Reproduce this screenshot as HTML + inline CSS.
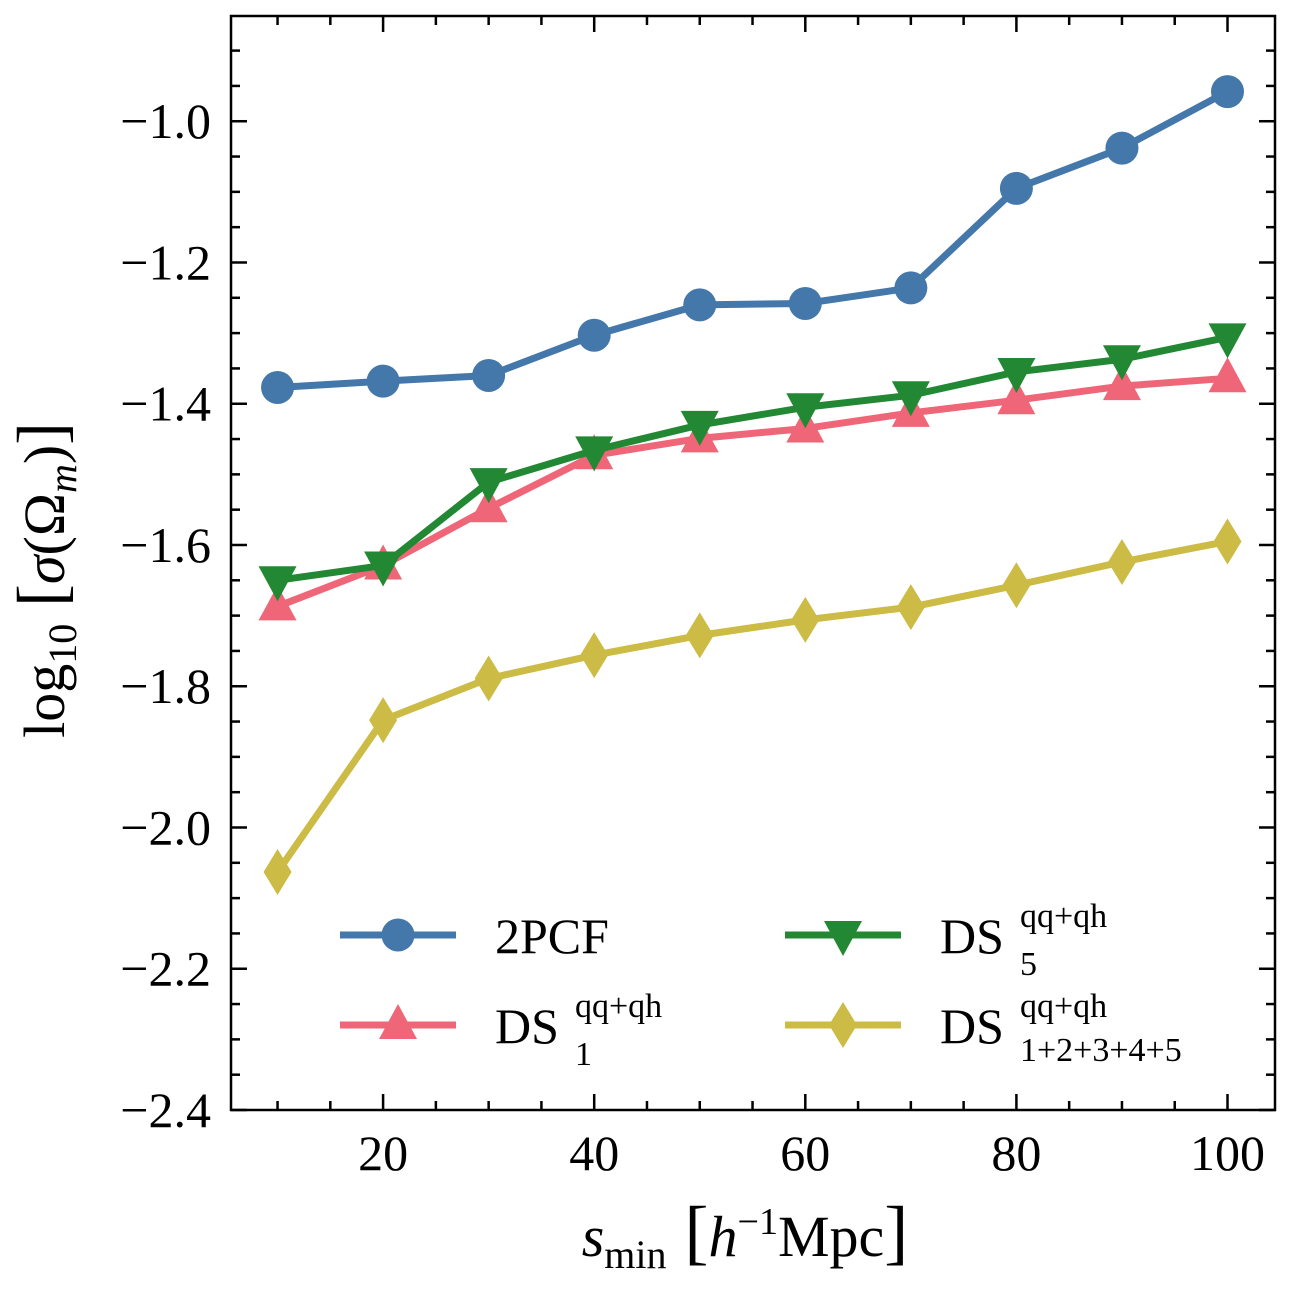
<!DOCTYPE html>
<html><head><meta charset="utf-8"><style>
body{margin:0;background:#fff}
svg{display:block}
text{font-family:"Liberation Serif","DejaVu Serif",serif;fill:#000}
</style></head><body>
<svg id="chart" width="1290" height="1290" viewBox="0 0 1290 1290"></svg>
<script>
const xValues=[10,20,30,40,50,60,70,80,90,100];
const series2PCF=[-1.377,-1.368,-1.360,-1.303,-1.260,-1.258,-1.236,-1.095,-1.038,-0.958];
const seriesDS1=[-1.687,-1.629,-1.548,-1.473,-1.449,-1.435,-1.413,-1.395,-1.375,-1.364];
const seriesDS5=[-1.650,-1.629,-1.511,-1.466,-1.430,-1.405,-1.388,-1.355,-1.337,-1.306];
const seriesComb=[-2.063,-1.848,-1.789,-1.756,-1.728,-1.706,-1.688,-1.657,-1.624,-1.595];
const xTicks=[20,40,60,80,100];
const yTicks=[-2.4,-2.2,-2.0,-1.8,-1.6,-1.4,-1.2,-1.0];

const L=231,R=1275,T=16,B=1110;
const X0=5.59,X1=104.5,Y0=-2.4,Y1=-0.851;
const sx=v=>L+(v-X0)/(X1-X0)*(R-L);
const sy=v=>B-(v-Y0)/(Y1-Y0)*(B-T);
const NS="http://www.w3.org/2000/svg";
const svg=document.getElementById('chart');
function mk(tag,attrs,parent){const e=document.createElementNS(NS,tag);for(const k in attrs)e.setAttribute(k,attrs[k]);(parent||svg).appendChild(e);return e;}

const tg=mk('g',{stroke:'#000','stroke-width':2.5});


for(let v=10;v<=104;v+=5){const x=sx(v);const maj=xTicks.includes(v);const len=maj?16:9;
 mk('line',{x1:x,y1:B,x2:x,y2:B-len},tg);mk('line',{x1:x,y1:T,x2:x,y2:T+len},tg);}
for(let i=0;i<=30;i++){const v=-2.4+i*0.05;if(v>Y1)break;const y=sy(v);const maj=i%4===0;const len=maj?16:9;
 mk('line',{x1:L,y1:y,x2:L+len,y2:y},tg);mk('line',{x1:R,y1:y,x2:R-len,y2:y},tg);}
xTicks.forEach(v=>{const t=mk('text',{x:sx(v),y:1170,'font-size':50,'text-anchor':'middle'});t.textContent=v;
 
 });
yTicks.forEach(v=>{const t=mk('text',{x:211,y:sy(v)+17,'font-size':50,'text-anchor':'end'});t.textContent='\u2212'+Math.abs(v).toFixed(1);
 
 });

function marker(g,type,x,y,color){
 if(type==='o')mk('circle',{cx:x,cy:y,r:16.5,fill:color},g);
 else if(type==='^')mk('polygon',{points:`${x},${y-21} ${x-19},${y+14} ${x+19},${y+14}`,fill:color},g);
 else if(type==='v')mk('polygon',{points:`${x},${y+21} ${x-19},${y-14} ${x+19},${y-14}`,fill:color},g);
 else if(type==='d')mk('polygon',{points:`${x},${y-23} ${x-14},${y} ${x},${y+23} ${x+14},${y}`,fill:color},g);
}
const defs=[[series2PCF,'#4477AA','o','series-2pcf'],[seriesDS1,'#EE6677','^','series-ds1'],[seriesDS5,'#228833','v','series-ds5'],[seriesComb,'#CCBB44','d','series-ds-combined']];
defs.forEach(([d,c,m,n])=>{const g=mk('g',{});
 
 
 mk('polyline',{points:d.map((v,i)=>sx(xValues[i])+','+sy(v)).join(' '),fill:'none',stroke:c,'stroke-width':7,'stroke-linejoin':'round'},g);
 d.forEach((v,i)=>marker(g,m,sx(xValues[i]),sy(v),c));});

mk('rect',{x:L,y:T,width:R-L,height:B-T,fill:'none',stroke:'#000','stroke-width':2.5});

const lg=mk('g',{});


const le=[[340,935,'#4477AA','o','2PCF',''],[340,1025,'#EE6677','^','DS','1'],[785,935,'#228833','v','DS','5'],[785,1025,'#CCBB44','d','DS','1+2+3+4+5']];
le.forEach(([x,y,c,m,lab,sub])=>{const g=mk('g',{},lg);
 
 
 mk('line',{x1:x,y1:y,x2:x+116,y2:y,stroke:c,'stroke-width':7},g);marker(g,m,x+58,y,c);
 const t=mk('text',{x:x+155,y:y+18,'font-size':50},g);t.textContent=lab;
 if(sub){const w=x+155+80;
  const s1=mk('text',{x:w,y:y-8,'font-size':34},g);s1.textContent='qq+qh';
  const s2=mk('text',{x:w,y:y+(sub.length>1?36:40),'font-size':34},g);s2.textContent=sub;}
});

const xl=mk('text',{x:745,y:1256,'font-size':58,'text-anchor':'middle'});


xl.innerHTML='<tspan font-style="italic">s</tspan><tspan font-size="40" dy="12">min</tspan><tspan dy="-12" font-size="72"> [</tspan><tspan font-style="italic">h</tspan><tspan font-size="38" dy="-22">\u22121</tspan><tspan dy="22">Mpc</tspan><tspan font-size="72">]</tspan>';
const yl=mk('text',{x:0,y:0,'font-size':58,'text-anchor':'middle',transform:'translate(64,580) rotate(-90)'});


yl.innerHTML='log<tspan font-size="40" dy="12">10</tspan><tspan dy="-12" font-size="68"> [</tspan><tspan font-style="italic">σ</tspan>(Ω<tspan font-size="40" dy="12" font-style="italic">m</tspan><tspan dy="-12">)</tspan><tspan font-size="68">]</tspan>';
</script>
</body></html>
